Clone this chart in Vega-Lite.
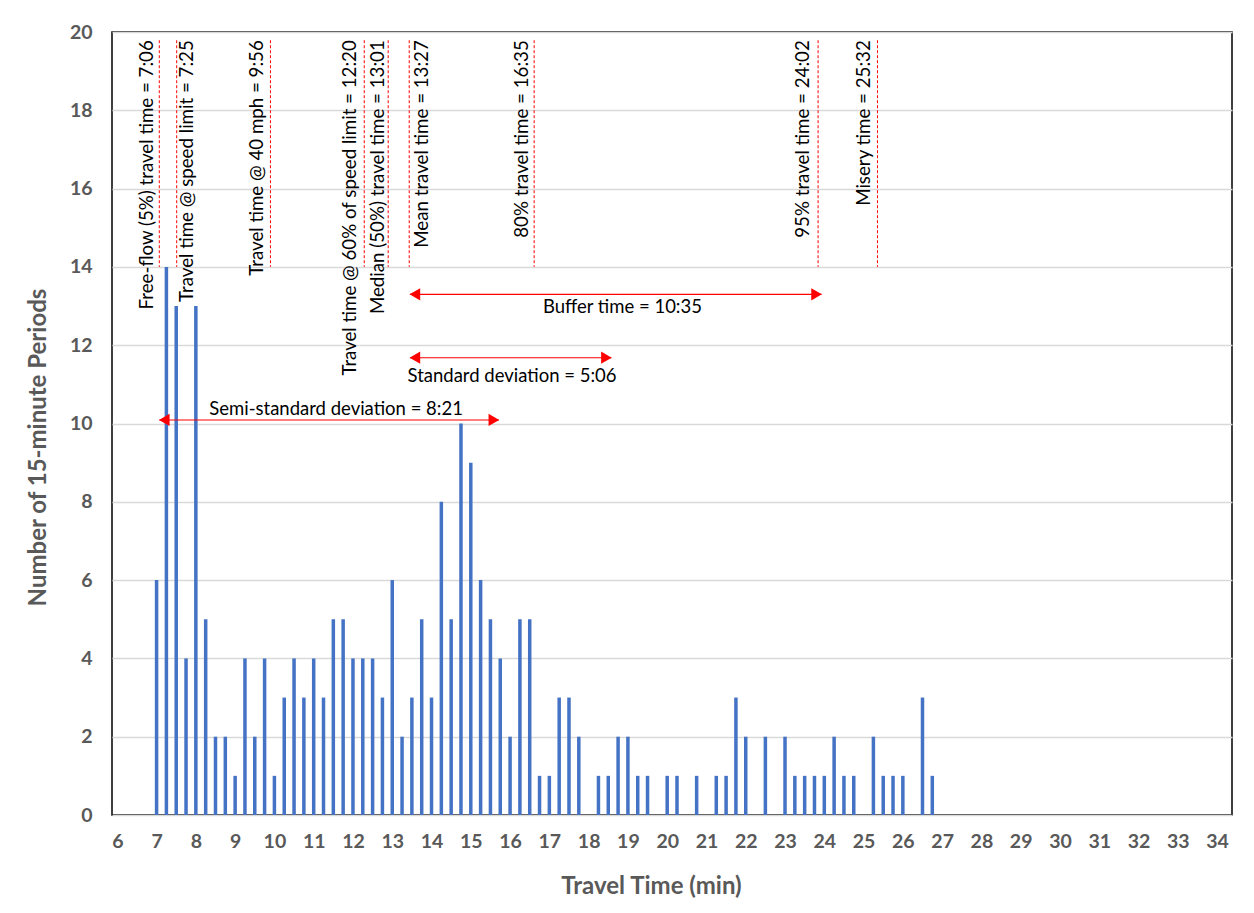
{
  "$schema": "https://vega.github.io/schema/vega-lite/v6.json",
  "width": 1120,
  "height": 783,
  "autosize": "none",
  "padding": {"left": 112, "top": 32, "right": 22, "bottom": 98},
  "background": "white",
  "config": {
    "view": {"stroke": "black", "strokeWidth": 1.5},
    "font": "Lato",
    "axisX": {"labelOverlap": false},
    "axisY": {"labelOverlap": false}
  },
  "datasets": {
    "bars": [
      {"x": 7.0, "y": 6}, {"x": 7.25, "y": 14}, {"x": 7.5, "y": 13}, {"x": 7.75, "y": 4},
      {"x": 8.0, "y": 13}, {"x": 8.25, "y": 5}, {"x": 8.5, "y": 2}, {"x": 8.75, "y": 2},
      {"x": 9.0, "y": 1}, {"x": 9.25, "y": 4}, {"x": 9.5, "y": 2}, {"x": 9.75, "y": 4},
      {"x": 10.0, "y": 1}, {"x": 10.25, "y": 3}, {"x": 10.5, "y": 4}, {"x": 10.75, "y": 3},
      {"x": 11.0, "y": 4}, {"x": 11.25, "y": 3}, {"x": 11.5, "y": 5}, {"x": 11.75, "y": 5},
      {"x": 12.0, "y": 4}, {"x": 12.25, "y": 4}, {"x": 12.5, "y": 4}, {"x": 12.75, "y": 3},
      {"x": 13.0, "y": 6}, {"x": 13.25, "y": 2}, {"x": 13.5, "y": 3}, {"x": 13.75, "y": 5},
      {"x": 14.0, "y": 3}, {"x": 14.25, "y": 8}, {"x": 14.5, "y": 5}, {"x": 14.75, "y": 10},
      {"x": 15.0, "y": 9}, {"x": 15.25, "y": 6}, {"x": 15.5, "y": 5}, {"x": 15.75, "y": 4},
      {"x": 16.0, "y": 2}, {"x": 16.25, "y": 5}, {"x": 16.5, "y": 5}, {"x": 16.75, "y": 1},
      {"x": 17.0, "y": 1}, {"x": 17.25, "y": 3}, {"x": 17.5, "y": 3}, {"x": 17.75, "y": 2},
      {"x": 18.25, "y": 1}, {"x": 18.5, "y": 1}, {"x": 18.75, "y": 2}, {"x": 19.0, "y": 2},
      {"x": 19.25, "y": 1}, {"x": 19.5, "y": 1}, {"x": 20.0, "y": 1}, {"x": 20.25, "y": 1},
      {"x": 20.75, "y": 1}, {"x": 21.25, "y": 1}, {"x": 21.5, "y": 1}, {"x": 21.75, "y": 3},
      {"x": 22.0, "y": 2}, {"x": 22.5, "y": 2}, {"x": 23.0, "y": 2}, {"x": 23.25, "y": 1},
      {"x": 23.5, "y": 1}, {"x": 23.75, "y": 1}, {"x": 24.0, "y": 1}, {"x": 24.25, "y": 2},
      {"x": 24.5, "y": 1}, {"x": 24.75, "y": 1}, {"x": 25.25, "y": 2}, {"x": 25.5, "y": 1},
      {"x": 25.75, "y": 1}, {"x": 26.0, "y": 1}, {"x": 26.5, "y": 3}, {"x": 26.75, "y": 1}
    ],
    "vlines": [
      {"x": 7.069, "y": 19.79, "yb": 14},
      {"x": 7.512, "y": 19.79, "yb": 14},
      {"x": 9.899, "y": 19.79, "yb": 14},
      {"x": 12.287, "y": 19.79, "yb": 14},
      {"x": 12.897, "y": 19.79, "yb": 14},
      {"x": 13.432, "y": 19.79, "yb": 14},
      {"x": 16.613, "y": 19.79, "yb": 14},
      {"x": 23.842, "y": 19.79, "yb": 14},
      {"x": 25.354, "y": 19.79, "yb": 14}
    ],
    "vlabels": [
      {"x": 6.748, "y": 19.79, "label": "Free-flow (5%) travel time = 7:06"},
      {"x": 7.774, "y": 19.79, "label": "Travel time @ speed limit = 7:25"},
      {"x": 9.556, "y": 19.79, "label": "Travel time @ 40 mph = 9:56"},
      {"x": 11.923, "y": 19.79, "label": "Travel time @ 60% of speed limit = 12:20"},
      {"x": 12.63, "y": 19.79, "label": "Median (50%) travel time = 13:01"},
      {"x": 13.755, "y": 19.79, "label": "Mean travel time = 13:27"},
      {"x": 16.308, "y": 19.79, "label": "80% travel time = 16:35"},
      {"x": 23.47, "y": 19.79, "label": "95% travel time = 24:02"},
      {"x": 25.01, "y": 19.79, "label": "Misery time = 25:32"}
    ],
    "arrows": [
      {"x": 13.45, "xe": 23.93, "y": 13.3},
      {"x": 13.45, "xe": 18.58, "y": 11.68},
      {"x": 7.069, "xe": 15.715, "y": 10.09}
    ],
    "alabels": [
      {"x": 18.86, "y": 12.98, "label": "Buffer time = 10:35"},
      {"x": 16.05, "y": 11.21, "label": "Standard deviation = 5:06"},
      {"x": 11.57, "y": 10.36, "label": "Semi-standard deviation = 8:21"}
    ],
    "heads": [
      {"x": 13.577, "y": 13.3, "dir": "triangle-left"},
      {"x": 23.803, "y": 13.3, "dir": "triangle-right"},
      {"x": 13.577, "y": 11.68, "dir": "triangle-left"},
      {"x": 18.453, "y": 11.68, "dir": "triangle-right"},
      {"x": 7.196, "y": 10.09, "dir": "triangle-left"},
      {"x": 15.588, "y": 10.09, "dir": "triangle-right"}
    ]
  },
  "encoding": {
    "x": {
      "field": "x", "type": "quantitative",
      "scale": {"domain": [5.865, 34.38], "nice": false, "zero": false, "padding": 0},
      "axis": {
        "values": [6,7,8,9,10,11,12,13,14,15,16,17,18,19,20,21,22,23,24,25,26,27,28,29,30,31,32,33,34],
        "format": "d", "grid": false, "ticks": false, "tickSize": 0, "domain": false,
        "labelFont": "Lato", "labelFontSize": 19.5, "labelFontWeight": "bold", "labelColor": "#595959",
        "labelPadding": 17, "labelFlush": false, "labelOverlap": false,
        "title": "Travel Time (min)", "titleFont": "Lato", "titleFontSize": 24, "titleFontWeight": "bold",
        "titleColor": "#595959", "titleX": 539, "titleY": 71, "titleBaseline": "middle", "titleAnchor": "middle"
      }
    },
    "y": {
      "field": "y", "type": "quantitative",
      "scale": {"domain": [0, 20], "nice": false, "zero": true},
      "axis": {
        "values": [0,2,4,6,8,10,12,14,16,18,20],
        "grid": true, "gridColor": "#D9D9D9", "gridWidth": 1.3,
        "ticks": false, "tickSize": 0, "domain": false,
        "labelFont": "Lato", "labelFontSize": 19.5, "labelFontWeight": "bold", "labelColor": "#595959",
        "labelPadding": 20, "labelOverlap": false,
        "title": "Number of 15-minute Periods", "titleFont": "Lato", "titleFontSize": 24, "titleFontWeight": "bold",
        "titleColor": "#595959", "titleX": -74, "titleY": 415, "titleBaseline": "middle", "titleAngle": -90, "titleAnchor": "middle"
      }
    }
  },
  "layer": [
    {
      "data": {"name": "bars"},
      "mark": {"type": "bar", "size": 3.5, "color": "#4472C4"}
    },
    {
      "data": {"name": "vlines"},
      "mark": {"type": "rule", "color": "#FF0000", "strokeWidth": 1, "strokeDash": [3, 2]},
      "encoding": {"y2": {"field": "yb"}}
    },
    {
      "data": {"name": "vlabels"},
      "mark": {"type": "text", "angle": 270, "align": "right", "baseline": "middle", "font": "Lato", "fontSize": 18.7, "color": "black"},
      "encoding": {"text": {"field": "label"}}
    },
    {
      "data": {"name": "arrows"},
      "mark": {"type": "rule", "color": "#FF0000", "strokeWidth": 1.2},
      "encoding": {"x2": {"field": "xe"}}
    },
    {
      "data": {"name": "heads"},
      "mark": {"type": "point", "filled": true, "color": "#FF0000", "size": 150, "opacity": 1},
      "encoding": {"shape": {"field": "dir", "type": "nominal", "scale": null}}
    },
    {
      "data": {"name": "alabels"},
      "mark": {"type": "text", "align": "center", "baseline": "middle", "font": "Lato", "fontSize": 18.5, "color": "black"},
      "encoding": {"text": {"field": "label"}}
    }
  ]
}
